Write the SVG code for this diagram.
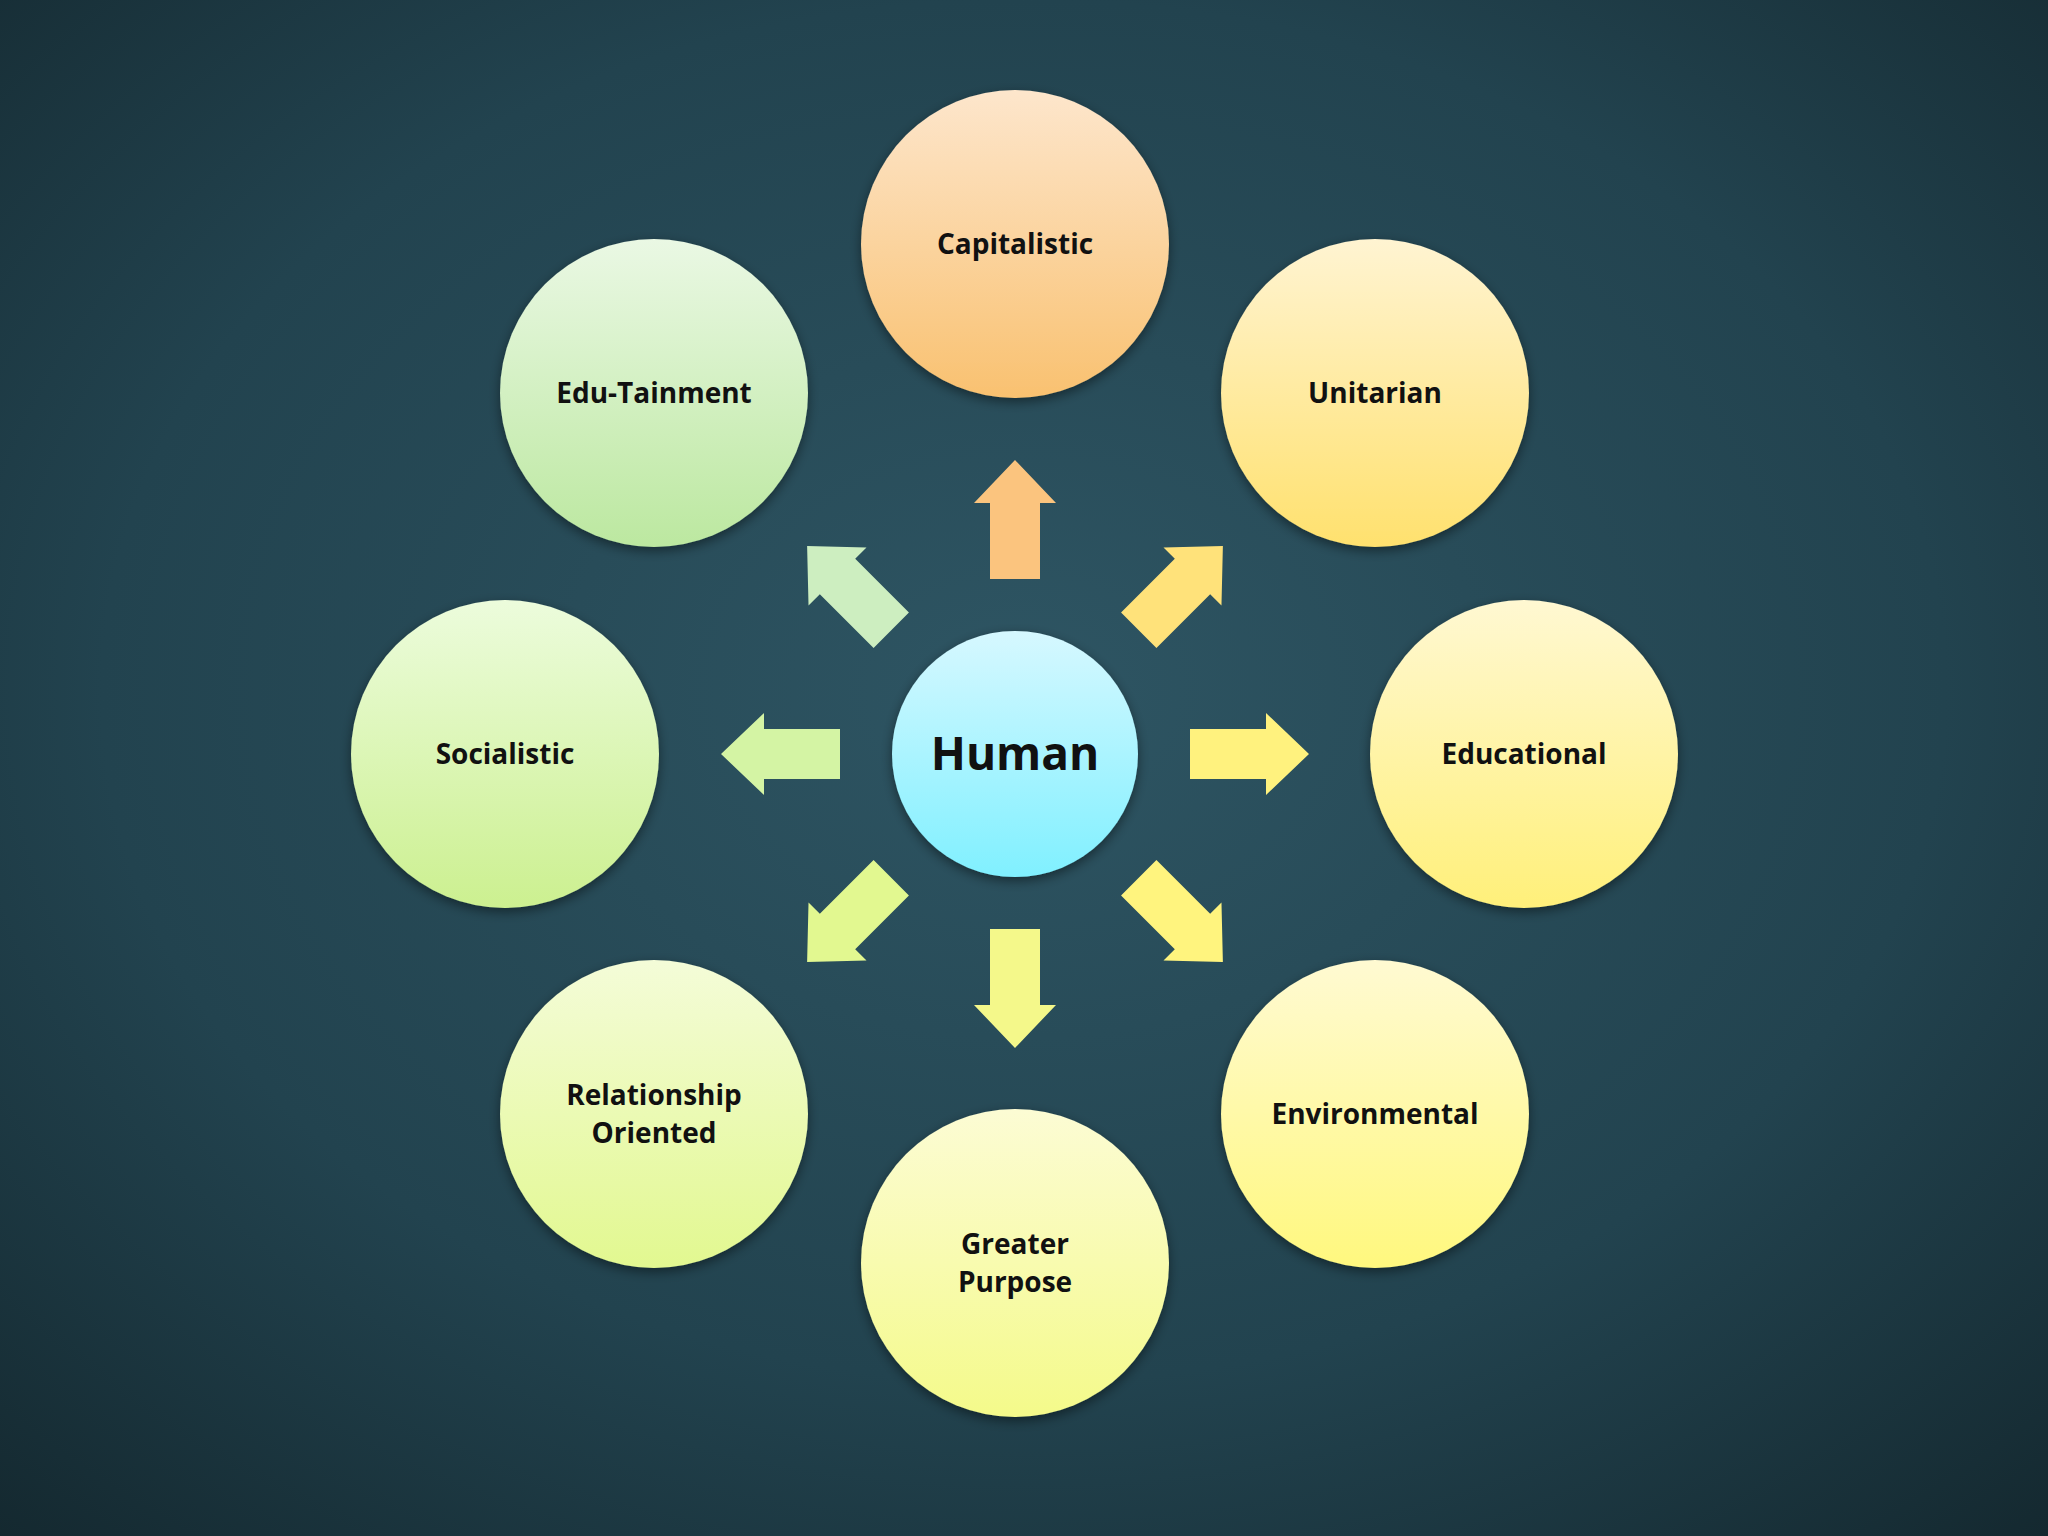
<svg xmlns="http://www.w3.org/2000/svg" width="2048" height="1536" viewBox="0 0 2048 1536">
<defs>
<radialGradient id="bg" cx="50%" cy="45%" r="75%"><stop offset="0" stop-color="#2e5563"/><stop offset="0.6" stop-color="#22434f"/><stop offset="1" stop-color="#14282f"/></radialGradient>
<linearGradient id="gCap" x1="0" y1="0" x2="0" y2="1"><stop offset="0" stop-color="#fde6cc"/><stop offset="1" stop-color="#f9c170"/></linearGradient>
<linearGradient id="gUni" x1="0" y1="0" x2="0" y2="1"><stop offset="0" stop-color="#fff4d2"/><stop offset="1" stop-color="#ffe16e"/></linearGradient>
<linearGradient id="gEdu" x1="0" y1="0" x2="0" y2="1"><stop offset="0" stop-color="#fff8d2"/><stop offset="1" stop-color="#fff07a"/></linearGradient>
<linearGradient id="gEnv" x1="0" y1="0" x2="0" y2="1"><stop offset="0" stop-color="#fffad2"/><stop offset="1" stop-color="#fff87e"/></linearGradient>
<linearGradient id="gGre" x1="0" y1="0" x2="0" y2="1"><stop offset="0" stop-color="#fcfcd4"/><stop offset="1" stop-color="#f4fa8a"/></linearGradient>
<linearGradient id="gRel" x1="0" y1="0" x2="0" y2="1"><stop offset="0" stop-color="#f4fcd8"/><stop offset="1" stop-color="#e2f890"/></linearGradient>
<linearGradient id="gSoc" x1="0" y1="0" x2="0" y2="1"><stop offset="0" stop-color="#ecfcdc"/><stop offset="1" stop-color="#ccf090"/></linearGradient>
<linearGradient id="gEdt" x1="0" y1="0" x2="0" y2="1"><stop offset="0" stop-color="#eaf8e4"/><stop offset="1" stop-color="#bce8a0"/></linearGradient>
<linearGradient id="gHum" x1="0" y1="0" x2="0" y2="1"><stop offset="0" stop-color="#d6f8ff"/><stop offset="1" stop-color="#80f0ff"/></linearGradient>
<linearGradient id="aG" x1="1" y1="0" x2="0" y2="0"><stop offset="0" stop-color="#fff" stop-opacity="0.5"/><stop offset="1" stop-color="#fff" stop-opacity="0"/></linearGradient>
<filter id="sh" x="-20%" y="-20%" width="140%" height="140%"><feDropShadow dx="0" dy="4" stdDeviation="6" flood-color="#000" flood-opacity="0.45"/></filter>
<polygon id="arr" points="175,-25 251,-25 251,-41 294,0 251,41 251,25 175,25"/>
</defs>
<style>
.t{font-family:"Open Sans","Liberation Sans",sans-serif;font-weight:bold;font-size:28px;fill:#111;text-anchor:middle}
.h{font-size:46px}
circle{filter:url(#sh)}
</style>
<rect width="2048" height="1536" fill="url(#bg)"/>
<g id="connectors">
<use href="#arr" transform="translate(1015,754) rotate(-90)" fill="#fbc47e"/>
<use href="#arr" transform="translate(1015,754) rotate(-45)" fill="#ffe27a"/>
<use href="#arr" transform="translate(1015,754) rotate(0)" fill="#fff27e"/>
<use href="#arr" transform="translate(1015,754) rotate(45)" fill="#fff47e"/>
<use href="#arr" transform="translate(1015,754) rotate(90)" fill="#f4f88a"/>
<use href="#arr" transform="translate(1015,754) rotate(135)" fill="#e2f890"/>
<use href="#arr" transform="translate(1015,754) rotate(180)" fill="#d4f4a4"/>
<use href="#arr" transform="translate(1015,754) rotate(225)" fill="#cdeec0"/>
</g>
<g id="human"><circle cx="1015" cy="754" r="123" fill="url(#gHum)"/><text class="t h" x="1015" y="770">Human</text></g>
<g id="capitalistic"><circle cx="1015" cy="244" r="154" fill="url(#gCap)"/><text class="t" x="1015" y="254">Capitalistic</text></g>
<g id="unitarian"><circle cx="1375" cy="393" r="154" fill="url(#gUni)"/><text class="t" x="1375" y="403">Unitarian</text></g>
<g id="educational"><circle cx="1524" cy="754" r="154" fill="url(#gEdu)"/><text class="t" x="1524" y="764">Educational</text></g>
<g id="environmental"><circle cx="1375" cy="1114" r="154" fill="url(#gEnv)"/><text class="t" x="1375" y="1124">Environmental</text></g>
<g id="greater-purpose"><circle cx="1015" cy="1263" r="154" fill="url(#gGre)"/><text class="t" x="1015" y="1254">Greater</text><text class="t" x="1015" y="1292">Purpose</text></g>
<g id="relationship"><circle cx="654" cy="1114" r="154" fill="url(#gRel)"/><text class="t" x="654" y="1105">Relationship</text><text class="t" x="654" y="1143">Oriented</text></g>
<g id="socialistic"><circle cx="505" cy="754" r="154" fill="url(#gSoc)"/><text class="t" x="505" y="764">Socialistic</text></g>
<g id="edu-tainment"><circle cx="654" cy="393" r="154" fill="url(#gEdt)"/><text class="t" x="654" y="403">Edu-Tainment</text></g>
</svg>
